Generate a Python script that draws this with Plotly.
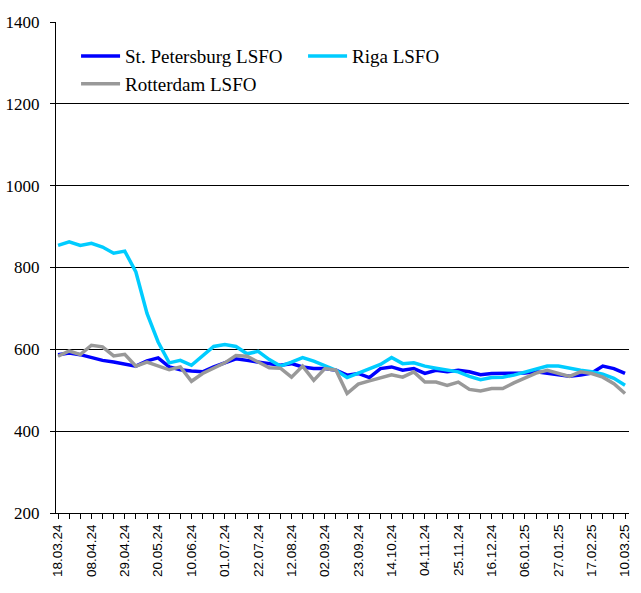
import pandas as pd
import plotly.graph_objects as go

# weekly dates, 18.03.24 .. 10.03.25
dates = pd.date_range("2024-03-18", periods=52, freq="7D")

st_petersburg = [587, 591, 587, 579, 573, 569, 565, 559, 572, 579, 557, 550, 547,
                 545, 557, 567, 577, 573, 569, 567, 561, 565, 557, 553, 553, 549,
                 537, 541, 531, 553, 557, 549, 553, 541, 549, 545, 549, 545, 538,
                 541, 541, 541, 542, 545, 541, 539, 534, 537, 542, 559, 553, 541]
riga = [854, 863, 854, 859, 850, 835, 840, 789, 688, 618, 567, 573, 561,
        585, 607, 612, 607, 589, 595, 575, 559, 569, 580, 571, 561, 549,
        531, 541, 553, 563, 580, 565, 567, 559, 554, 549, 545, 534, 526,
        531, 532, 537, 545, 553, 559, 559, 553, 549, 545, 539, 529, 512]
rotterdam = [583, 596, 587, 610, 606, 584, 588, 559, 569, 559, 550, 557, 522,
             541, 554, 567, 585, 583, 569, 555, 554, 532, 559, 524, 553, 549,
             492, 515, 523, 531, 538, 532, 545, 520, 520, 512, 520, 502, 498,
             504, 504, 518, 529, 542, 549, 541, 534, 545, 541, 532, 516, 492]

series = [
    ("St. Petersburg LSFO", st_petersburg, "#0000ff"),
    ("Riga LSFO", riga, "#00ccff"),
    ("Rotterdam LSFO", rotterdam, "#999999"),
]

fig = go.Figure()
for name, vals, color in series:
    fig.add_trace(go.Scatter(x=dates, y=vals, mode="lines", name=name,
                             line=dict(color=color, width=3.5)))

fig.update_layout(
    width=641, height=593,
    margin=dict(l=56, r=12, t=22, b=80),
    plot_bgcolor="white", paper_bgcolor="white",
    showlegend=True,
    legend=dict(orientation="h", x=0.035, y=0.969, xanchor="left", yanchor="top",
                entrywidth=173, itemwidth=39, bgcolor="rgba(0,0,0,0)", tracegroupgap=0,
                font=dict(family="Times New Roman, Liberation Serif", size=19, color="black")),
)

fig.update_xaxes(
    automargin=False,
    range=[dates[0] - pd.Timedelta(days=1.3), dates[-1] + pd.Timedelta(days=2.5)],
    tick0=dates[0], dtick=21 * 86400000, tickformat="%d.%m.%y", tickangle=-90,
    ticks="outside", ticklen=5, tickcolor="black",
    minor=dict(dtick=7 * 86400000, tick0=dates[0], ticks="outside", ticklen=5, tickcolor="black"),
    showline=True, linecolor="black", linewidth=1, showgrid=False, zeroline=False,
    tickfont=dict(family="Arial, Liberation Sans", size=13.5, color="black"),
)
fig.update_yaxes(
    automargin=False,
    range=[200, 1400], dtick=200,
    ticks="outside", ticklen=5, tickcolor="black", ticklabelstandoff=7,
    showline=True, linecolor="black", linewidth=1,
    showgrid=True, gridcolor="black", gridwidth=1, zeroline=False,
    tickfont=dict(family="Times New Roman, Liberation Serif", size=17, color="black"),
)

# drop the default 8px body margin so the figure fills the window
fig.write_html("out.html", config={"displayModeBar": False},
               post_script="document.body.style.margin='0';")
